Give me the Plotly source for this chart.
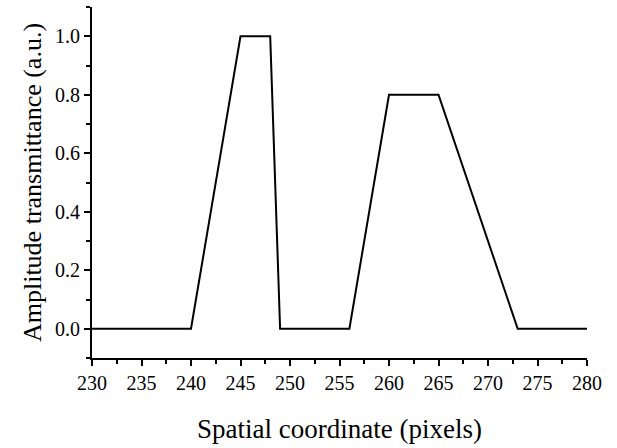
import plotly.graph_objects as go

x_pixels = [230, 240, 245, 248, 249, 256, 260, 265, 273, 280]
amplitude = [0.0, 0.0, 1.0, 1.0, 0.0, 0.0, 0.8, 0.8, 0.0, 0.0]
x_ticks = [230, 235, 240, 245, 250, 255, 260, 265, 270, 275, 280]
y_ticks = [0.0, 0.2, 0.4, 0.6, 0.8, 1.0]

font = "Times New Roman"

fig = go.Figure()
fig.add_trace(go.Scatter(x=x_pixels, y=amplitude, mode="lines",
                         line=dict(color="black", width=2), showlegend=False))

fig.update_layout(
    template="none",
    width=617, height=448,
    margin=dict(l=92, r=30, t=7, b=90),
    paper_bgcolor="white", plot_bgcolor="white",
    font=dict(family=font, color="black", size=20),
)
fig.update_xaxes(
    range=[230, 280], tickmode="array", tickvals=x_ticks,
    showgrid=False, zeroline=False, showline=True, linecolor="black", linewidth=2,
    ticks="outside", ticklen=6, tickwidth=1.5, tickcolor="black",
    tickfont_family=font, tickfont_size=20,
    minor=dict(dtick=2.5, tick0=230, ticks="outside", ticklen=4, tickwidth=1.5, tickcolor="black", showgrid=False),
    title=dict(text="Spatial coordinate (pixels)", font=dict(size=27, family=font), standoff=26),
)
fig.update_yaxes(
    range=[-0.1, 1.1], tickmode="array", tickvals=y_ticks, tickformat=".1f",
    showgrid=False, zeroline=False, showline=True, linecolor="black", linewidth=2,
    ticks="outside", ticklen=6, tickwidth=1.5, tickcolor="black",
    tickfont_family=font, tickfont_size=20,
    minor=dict(dtick=0.1, tick0=-0.1, ticks="outside", ticklen=4, tickwidth=1.5, tickcolor="black", showgrid=False),
    title=dict(text="Amplitude transmittance (a.u.)", font=dict(size=26, family=font), standoff=6),
)

fig.write_html("out.html")
